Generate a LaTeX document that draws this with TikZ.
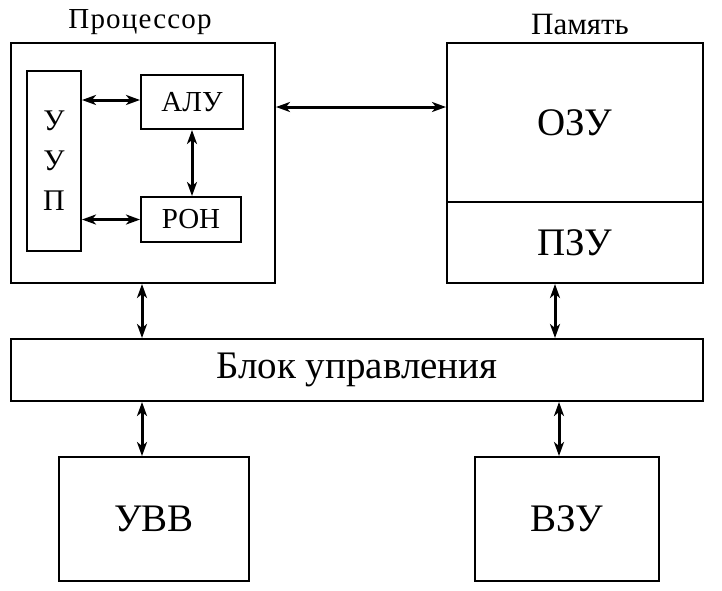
\documentclass[tikz,border=0pt]{standalone}
\usepackage{fontspec}
\setmainfont{Liberation Serif}
\newfontfamily\spacedfont[LetterSpace=4]{Liberation Serif}
\usetikzlibrary{arrows.meta}
\tikzset{
  blk/.style={draw, line width=2pt, inner sep=0pt, anchor=center},
  link/.style={line width=3pt, {Stealth[length=14pt,width=10pt,inset=4pt]}-{Stealth[length=14pt,width=10pt,inset=4pt]}},
  big/.style={font=\fontsize{39}{44}\selectfont},
  mid/.style={font=\fontsize{29}{34}\selectfont},
  lbl/.style={inner sep=0pt, anchor=center}
}
\begin{document}
\begin{tikzpicture}[x=1pt,y=-1pt]
\useasboundingbox (0,0) rectangle (722,590);
% processor
\node[blk, minimum width=264pt, minimum height=240pt] (proc) at (143,163) {};
\node[lbl, font=\spacedfont\fontsize{29}{34}\selectfont] (proclbl) at (140,22) {Процессор};
\node[blk, minimum width=54pt, minimum height=180pt, align=center, font=\fontsize{30}{40}\selectfont] (uup) at (54,161) {У\\У\\П};
\node[blk, mid, minimum width=102pt, minimum height=54pt] (alu) at (192,102) {АЛУ};
\node[blk, mid, minimum width=100pt, minimum height=45pt] (ron) at (191,219.5) {РОН};
% memory
\node[blk, big, minimum width=256pt, minimum height=159pt] (ozu) at (575,122.5) {ОЗУ};
\node[blk, big, minimum width=256pt, minimum height=81pt] (pzu) at (575,242.5) {ПЗУ};
\node[lbl, font=\fontsize{31}{36}\selectfont] (memlbl) at (580,24) {Память};
% control block
\node[blk, big, minimum width=692pt, minimum height=62pt] (blok) at (357,370) {Блок управления};
% devices
\node[blk, big, minimum width=190pt, minimum height=124pt] (uvv) at (154,519) {УВВ};
\node[blk, big, minimum width=184pt, minimum height=124pt] (vzu) at (567,519) {ВЗУ};
% connectors
\draw[link] ([yshift=2pt]alu.west -| uup.east) -- ([yshift=2pt]alu.west);
\draw[link] (ron.west -| uup.east) -- (ron.west);
\draw[link] (alu.south) -- (alu.south |- ron.north);
\draw[link] ([yshift=15.5pt]ozu.west -| proc.east) -- ([yshift=15.5pt]ozu.west);
\draw[link] ([xshift=-1pt]proc.south) -- ([xshift=-1pt]proc.south |- blok.north);
\draw[link] ([xshift=-20pt]pzu.south) -- ([xshift=-20pt]pzu.south |- blok.north);
\draw[link] ([xshift=-1pt]blok.south -| proc.south) -- ([xshift=-1pt]uvv.north -| proc.south);
\draw[link] ([xshift=-8pt]vzu.north |- blok.south) -- ([xshift=-8pt]vzu.north);
\end{tikzpicture}
\end{document}
